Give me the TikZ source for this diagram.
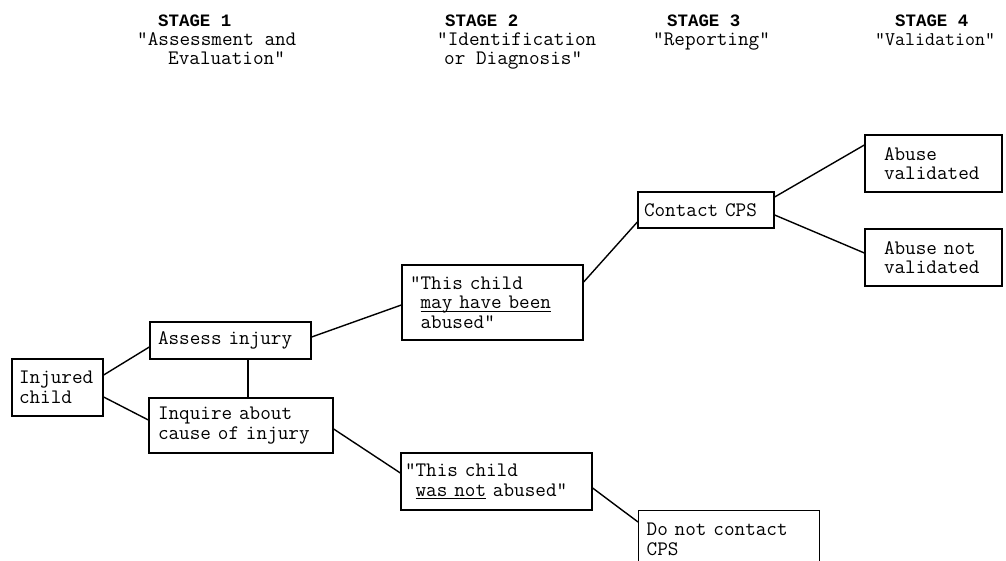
\documentclass[tikz,border=0pt]{standalone}
\usepackage{fontspec}
\newfontfamily\courbf{Liberation Mono Bold}
\newcommand{\boxfont}{\ttfamily\fontsize{20.6}{19.5}\selectfont\spaceskip=\fontdimen2\font\relax}
\newcommand{\myul}[1]{\setbox0\hbox{#1}\rlap{\rule[-3pt]{\wd0}{1.3pt}}\box0\relax}
\usetikzlibrary{calc}
\tikzset{
  box/.style={draw, line width=1.3pt, align=left, font=\boxfont, inner ysep=0pt},
  head/.style={anchor=base west, inner sep=0pt, font=\boxfont},
  stage/.style={anchor=base west, inner sep=0pt, font=\courbf\fontsize{17.4}{18.5}\selectfont},
  link/.style={line width=1.4pt}
}
\begin{document}
\begin{tikzpicture}[x=1pt,y=-1pt]
\clip (0,0) rectangle (1006,561);
\fill[white] (0,0) rectangle (1006,561);
% headers
\node[stage] (s1) at (158,27) {STAGE 1};
\node[head] (s1a) at (137,46) {"Assessment and};
\node[head] (s1b) at (168,65) {Evaluation"};
\node[stage] (s2) at (445,27) {STAGE 2};
\node[head] (s2a) at (437,46) {"Identification};
\node[head] (s2b) at (444,65) {or Diagnosis"};
\node[stage] (s3) at (667,27) {STAGE 3};
\node[head] (s3a) at (653,46) {"Reporting"};
\node[stage] (s4) at (895,27) {STAGE 4};
\node[head, font=\ttfamily\fontsize{19.4}{18.5}\selectfont] (s4a) at (875,46) {"Validation"};
% boxes
\node[box, minimum width=91pt, minimum height=57pt, inner xsep=7pt, text width=77pt] (ic) at (57.5,387.5) {Injured\\child};
\node[box, minimum width=161pt, minimum height=37pt, inner xsep=8pt, text width=145pt] (as) at (230.5,340.5) {Assess injury};
\node[box, minimum width=184pt, minimum height=55pt, inner xsep=9pt, text width=166pt] (iq) at (241,425.5) {Inquire about\\cause of injury};
\node[box, minimum width=181pt, minimum height=75pt, inner xsep=8pt, text width=165pt] (may) at (492.5,302.5) {"This child\\\hphantom{"}\myul{may have been}\\\hphantom{"}abused"};
\node[box, minimum width=191pt, minimum height=57pt, inner xsep=4pt, text width=183pt] (wn) at (496.5,481.5) {"This child\\\hphantom{"}\myul{was not} abused"};
\node[box, minimum width=136pt, minimum height=36pt, inner xsep=6pt, text width=124pt] (cc) at (706,210) {Contact CPS};
\node[box, minimum width=137pt, minimum height=57pt, inner xsep=19pt, text width=99pt] (av) at (933.5,163.5) {Abuse\\validated};
\node[box, minimum width=137pt, minimum height=57pt, inner xsep=19pt, text width=99pt] (anv) at (933.5,257.5) {Abuse not\\validated};
\node[box, anchor=north west, minimum width=181pt, inner xsep=8pt, inner ysep=0pt, text width=165pt, text depth=40pt, text height=25pt] (dn) at (638,510) {Do not contact\\CPS};
% connectors
\draw[link] ([yshift=12.5]ic.east) -- ([yshift=-6.5]as.west);
\draw[link] ([yshift=-9.5]ic.east) -- ([yshift=5.5]iq.west);
\draw[link] ([xshift=17.5]as.south) -- ([xshift=17.5]as.south |- iq.north);
\draw[link] ([yshift=3.5]as.east) -- ([yshift=-2.5]may.west);
\draw[link] ([yshift=20.5]may.east) -- ([yshift=-12]cc.west);
\draw[link] ([yshift=13]cc.east) -- ([yshift=18.5]av.west);
\draw[link] ([yshift=-5]cc.east) -- ([yshift=4.5]anv.west);
\draw[link] ([yshift=-3.5]iq.east) -- ([yshift=8.5]wn.west);
\draw[link] ([yshift=-6.5]wn.east) -- ([yshift=-12]dn.north west);
\end{tikzpicture}
\end{document}
